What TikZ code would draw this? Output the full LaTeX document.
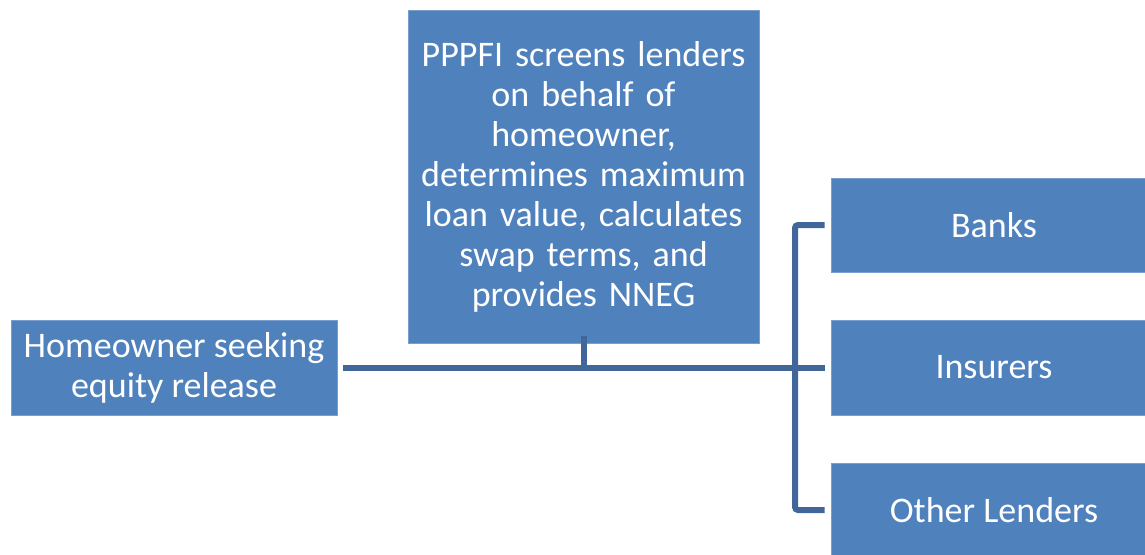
\documentclass[tikz,border=0pt]{standalone}
\usepackage{fontspec}
\setmainfont{Carlito}
\definecolor{boxblue}{HTML}{4F81BD}
\definecolor{boxedge}{HTML}{7A9FCF}
\definecolor{linkblue}{HTML}{41679A}
\begin{document}
\begin{tikzpicture}[x=1pt,y=-1pt,
  box/.style={fill=boxblue,draw=boxedge,line width=0.8pt,text=white,align=center,
    inner sep=0pt,font=\fontsize{36}{40}\selectfont},
  conn/.style={draw=linkblue,line width=6pt}]
\useasboundingbox (0,0) rectangle (1145,554);
\node[box,minimum width=326pt,minimum height=95pt] (home) at (174,367.5) {Homeowner seeking\\equity release};
\node[box,minimum width=351pt,minimum height=333pt,text width=345pt] (pppfi) at (583.5,176.5) {PPPFI screens lenders\\on behalf of\\homeowner,\\determines maximum\\loan value, calculates\\swap terms, and\\provides NNEG};
\node[box,minimum width=326pt,minimum height=94pt] (banks) at (994,225) {Banks};
\node[box,minimum width=326pt,minimum height=95pt] (ins) at (994,367.5) {Insurers};
\node[box,minimum width=326pt,minimum height=94pt] (other) at (994,510) {Other Lenders};
\coordinate (bx) at (795,367.5);
\draw[conn] ([xshift=6pt]home.east) -- ([xshift=-6pt]ins.west);
\draw[conn] ([yshift=7pt]pppfi.south) -- (pppfi.south |- home.east);
\draw[conn,rounded corners=3pt] ([xshift=-6pt]banks.west) -| (bx |- other.west) -- ([xshift=-6pt]other.west);
\end{tikzpicture}
\end{document}
